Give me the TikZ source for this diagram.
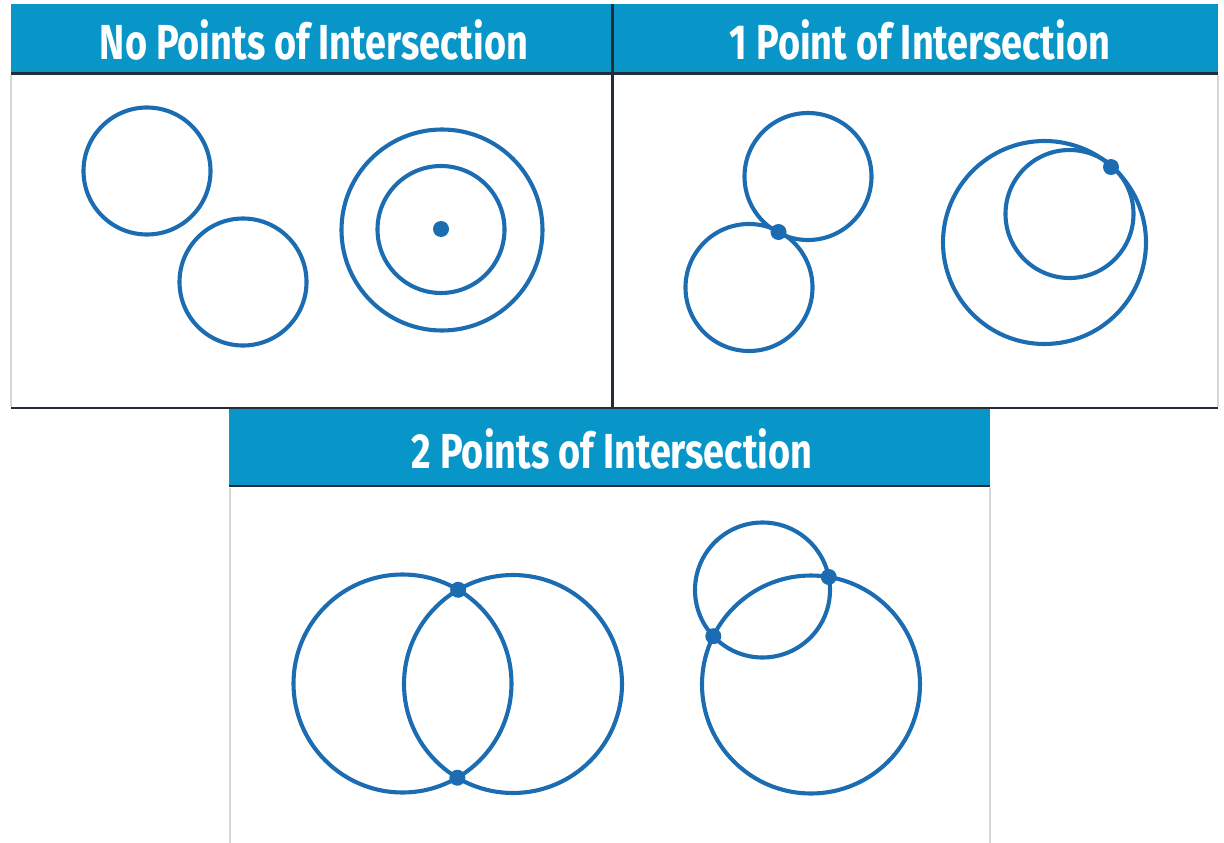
\documentclass[tikz,border=0pt]{standalone}
\usepackage{fontspec}
\setmainfont{Fira Sans}
\usetikzlibrary{intersections}
\definecolor{headblue}{RGB}{8,150,200}
\definecolor{ringblue}{RGB}{28,108,178}
\definecolor{rulegray}{RGB}{35,45,55}
\definecolor{edgegray}{RGB}{215,215,215}
\tikzset{
	ring/.style={draw=ringblue, line width=3.5pt},
	spot/.style={fill=ringblue},
	title/.style={text=white, font=\bfseries\fontsize{42}{42}\selectfont, xscale=0.77, transform shape},
}
\begin{document}
\begin{tikzpicture}[x=0.03cm,y=-0.03cm]
	\useasboundingbox (0,0) rectangle (1224,843);
	% header bars
	\fill[headblue] (11,4) rectangle (1218,73);
	\fill[headblue] (229,409) rectangle (990,485);
	\draw[rulegray, line width=2.4pt] (11,73.5) -- (1218,73.5);
	\draw[rulegray, line width=2.4pt] (229,486) -- (990,486);
	% frames
	\draw[edgegray, line width=1pt] (11,75) -- (11,407);
	\draw[edgegray, line width=1pt] (1218,75) -- (1218,407);
	\draw[edgegray, line width=1pt] (230,488) -- (230,843);
	\draw[edgegray, line width=1pt] (990,488) -- (990,843);
	\draw[rulegray, line width=2pt] (11,408) -- (1218,408);
	\draw[rulegray, line width=2.4pt] (612.5,4) -- (612.5,409);
	% titles
	\node[title] (t0) at (314,40) {No Points of Intersection};
	\node[title] (t1) at (920,40) {1 Point of Intersection};
	\node[title] (t2) at (612,449) {2 Points of Intersection};
	% no points
	\draw[ring] (147,171) circle[radius=63.5];
	\draw[ring] (243,282) circle[radius=63.5];
	\draw[ring] (442,230) circle[radius=100.5];
	\draw[ring] (441,229.5) circle[radius=63.5];
	\fill[spot] (441,229) circle[radius=8];
	% one point
	\draw[ring] (808,176.5) circle[radius=63.5];
	\draw[ring] (749,287.5) circle[radius=63.5];
	\coordinate (k1) at (778.5,232);
	\fill[spot] (k1) circle[radius=8];
	\draw[ring] (1044.5,242.5) circle[radius=101.5];
	\draw[ring] (1069.5,214) circle[radius=64];
	\coordinate (k2) at (1111,167);
	\fill[spot] (k2) circle[radius=8];
	% two points
	\draw[ring, name path=la] (402.5,683.5) circle[radius=109];
	\draw[ring, name path=ra] (513,684) circle[radius=109];
	\path[name intersections={of=la and ra, by={a1,a2}}];
	\fill[spot] (a1) circle[radius=8];
	\fill[spot] (a2) circle[radius=8];
	\draw[ring, name path=sb] (762.5,590) circle[radius=67.5];
	\draw[ring, name path=bb] (811,684.5) circle[radius=109];
	\path[name intersections={of=sb and bb, by={b1,b2}}];
	\fill[spot] (b1) circle[radius=8];
	\fill[spot] (b2) circle[radius=8];
\end{tikzpicture}
\end{document}
